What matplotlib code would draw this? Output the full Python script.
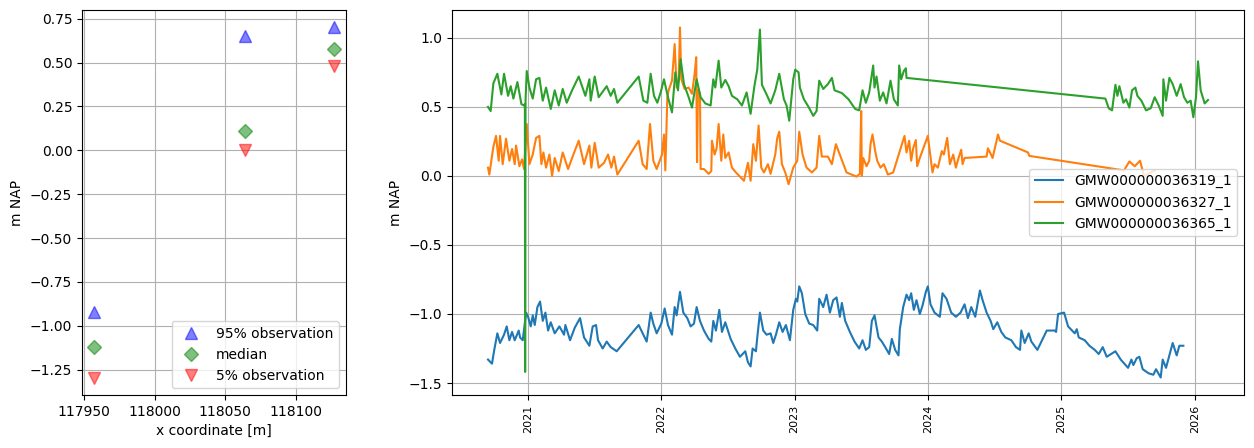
import datetime as dt

import matplotlib
matplotlib.use('Agg')
import matplotlib.pyplot as plt


# left panel: statistics per well along x coordinate
x_coord = [117957, 118064, 118127]
q95 = [-0.92, 0.65, 0.70]
q50 = [-1.12, 0.11, 0.575]
q05 = [-1.295, 0.0, 0.48]

# right panel: head series (decimal year, m NAP)
well_names = ['GMW000000036319_1', 'GMW000000036327_1', 'GMW000000036365_1']

well_319 = [
    (2020.70, -1.33), (2020.73, -1.36), (2020.745, -1.27), (2020.77, -1.14), (2020.79, -1.21),
    (2020.82, -1.15), (2020.84, -1.09), (2020.86, -1.19), (2020.88, -1.13), (2020.90, -1.19),
    (2020.93, -1.12), (2020.94, -1.17), (2020.96, -1.19), (2020.985, -0.99), (2021.00, -1.02),
    (2021.02, -1.09), (2021.035, -1.01), (2021.05, -1.08), (2021.07, -0.95), (2021.09, -0.91),
    (2021.11, -1.05), (2021.13, -0.99), (2021.15, -1.12), (2021.17, -1.06), (2021.20, -1.14),
    (2021.235, -1.09), (2021.27, -1.15), (2021.28, -1.08), (2021.315, -1.19), (2021.35, -1.10),
    (2021.39, -1.03), (2021.42, -1.17), (2021.46, -1.23), (2021.485, -1.09), (2021.51, -1.08),
    (2021.525, -1.19), (2021.56, -1.25), (2021.59, -1.20), (2021.62, -1.24), (2021.665, -1.27),
    (2021.83, -1.08), (2021.86, -1.14), (2021.89, -1.20), (2021.92, -0.99), (2021.94, -1.07),
    (2021.965, -1.14), (2022.00, -1.07), (2022.025, -0.96), (2022.05, -1.08), (2022.08, -1.15),
    (2022.10, -0.95), (2022.115, -1.01), (2022.14, -0.84), (2022.165, -0.99), (2022.195, -1.03),
    (2022.22, -1.09), (2022.245, -1.07), (2022.265, -0.95), (2022.29, -1.05), (2022.32, -1.12),
    (2022.355, -1.18), (2022.375, -1.20), (2022.39, -1.05), (2022.41, -1.12), (2022.435, -0.97),
    (2022.455, -1.13), (2022.48, -1.06), (2022.52, -1.18), (2022.555, -1.25), (2022.59, -1.31),
    (2022.63, -1.27), (2022.65, -1.35), (2022.67, -1.38), (2022.685, -1.25), (2022.71, -1.27),
    (2022.72, -1.17), (2022.74, -0.99), (2022.765, -1.12), (2022.79, -1.15), (2022.82, -1.14),
    (2022.84, -1.21), (2022.86, -1.15), (2022.885, -1.06), (2022.91, -1.13), (2022.935, -1.08),
    (2022.965, -1.19), (2022.99, -0.97), (2023.01, -0.89), (2023.02, -0.91), (2023.035, -0.80),
    (2023.055, -0.85), (2023.08, -1.00), (2023.11, -1.07), (2023.14, -1.08), (2023.17, -1.12),
    (2023.185, -0.89), (2023.215, -0.95), (2023.24, -0.86), (2023.265, -0.99), (2023.29, -0.90),
    (2023.315, -0.88), (2023.34, -1.02), (2023.355, -0.92), (2023.38, -1.05), (2023.415, -1.13),
    (2023.45, -1.20), (2023.485, -1.25), (2023.51, -1.19), (2023.535, -1.26), (2023.56, -1.24),
    (2023.58, -1.05), (2023.60, -1.01), (2023.63, -1.17), (2023.655, -1.20), (2023.68, -1.24),
    (2023.71, -1.29), (2023.73, -1.18), (2023.755, -1.26), (2023.78, -1.30), (2023.79, -1.11),
    (2023.815, -0.95), (2023.84, -0.86), (2023.86, -0.90), (2023.875, -0.85), (2023.895, -0.97),
    (2023.915, -0.90), (2023.94, -1.00), (2023.96, -0.94), (2023.985, -0.84), (2024.00, -0.80),
    (2024.02, -0.93), (2024.05, -0.99), (2024.09, -1.02), (2024.11, -0.85), (2024.14, -0.89),
    (2024.175, -0.99), (2024.21, -1.02), (2024.245, -0.99), (2024.275, -0.93), (2024.30, -1.03),
    (2024.325, -0.95), (2024.355, -1.02), (2024.39, -0.83), (2024.41, -0.90), (2024.44, -0.99),
    (2024.47, -1.05), (2024.49, -1.11), (2024.52, -1.06), (2024.55, -1.13), (2024.58, -1.17),
    (2024.625, -1.19), (2024.66, -1.24), (2024.69, -1.26), (2024.70, -1.12), (2024.725, -1.21),
    (2024.755, -1.14), (2024.775, -1.20), (2024.82, -1.26), (2024.89, -1.12), (2024.95, -1.12),
    (2024.96, -1.13), (2024.975, -1.00), (2025.02, -0.99), (2025.05, -1.09), (2025.10, -1.14),
    (2025.115, -1.11), (2025.13, -1.17), (2025.175, -1.19), (2025.21, -1.23), (2025.25, -1.26),
    (2025.28, -1.29), (2025.31, -1.24), (2025.34, -1.31), (2025.405, -1.27), (2025.445, -1.33),
    (2025.50, -1.39), (2025.525, -1.33), (2025.54, -1.37), (2025.565, -1.32), (2025.585, -1.31),
    (2025.61, -1.40), (2025.655, -1.43), (2025.69, -1.44), (2025.71, -1.40), (2025.745, -1.46),
    (2025.76, -1.33), (2025.785, -1.39), (2025.835, -1.21), (2025.865, -1.30), (2025.885, -1.23),
    (2025.915, -1.23),
]

well_327 = [
    (2020.70, 0.06), (2020.71, 0.01), (2020.74, 0.21), (2020.76, 0.29), (2020.78, 0.11),
    (2020.79, 0.29), (2020.81, 0.085), (2020.835, 0.27), (2020.86, 0.11), (2020.88, 0.195),
    (2020.90, 0.085), (2020.91, 0.22), (2020.935, 0.07), (2020.955, 0.12), (2020.97, 0.05),
    (2020.99, 0.376), (2021.01, 0.085), (2021.035, 0.155), (2021.06, 0.275), (2021.085, 0.29),
    (2021.10, 0.085), (2021.115, 0.17), (2021.135, 0.06), (2021.16, 0.155), (2021.18, 0.0),
    (2021.20, 0.13), (2021.23, 0.035), (2021.26, 0.17), (2021.30, 0.05), (2021.34, 0.155),
    (2021.38, 0.255), (2021.42, 0.085), (2021.46, 0.22), (2021.475, 0.06), (2021.50, 0.24),
    (2021.53, 0.06), (2021.57, 0.095), (2021.60, 0.155), (2021.625, 0.06), (2021.645, 0.14),
    (2021.67, 0.01), (2021.83, 0.255), (2021.86, 0.085), (2021.89, 0.05), (2021.915, 0.376),
    (2021.94, 0.11), (2021.965, 0.05), (2022.005, 0.155), (2022.02, 0.30), (2022.03, 0.04),
    (2022.045, 0.57), (2022.055, 0.62), (2022.08, 0.69), (2022.10, 0.955), (2022.115, 0.64),
    (2022.13, 0.69), (2022.14, 1.075), (2022.15, 0.70), (2022.175, 0.63), (2022.205, 0.64),
    (2022.23, 0.595), (2022.25, 0.74), (2022.262, 0.86), (2022.268, 0.10), (2022.275, 0.62),
    (2022.29, 0.60), (2022.295, 0.05), (2022.32, 0.05), (2022.355, 0.015), (2022.375, 0.035),
    (2022.38, 0.255), (2022.40, 0.155), (2022.415, 0.20), (2022.43, 0.376), (2022.45, 0.11),
    (2022.465, 0.30), (2022.48, 0.13), (2022.505, 0.17), (2022.53, 0.06), (2022.56, 0.025),
    (2022.595, -0.01), (2022.62, -0.035), (2022.65, 0.095), (2022.67, -0.035), (2022.69, 0.23),
    (2022.71, 0.11), (2022.73, 0.365), (2022.75, 0.06), (2022.77, 0.025), (2022.80, 0.085),
    (2022.82, 0.015), (2022.855, 0.155), (2022.87, 0.275), (2022.885, 0.32), (2022.905, 0.085),
    (2022.93, 0.025), (2022.955, -0.06), (2022.99, 0.06), (2023.02, 0.11), (2023.035, 0.32),
    (2023.06, 0.155), (2023.09, 0.06), (2023.13, 0.025), (2023.165, 0.06), (2023.185, 0.29),
    (2023.205, 0.14), (2023.25, 0.14), (2023.28, 0.085), (2023.31, 0.23), (2023.39, 0.025),
    (2023.465, -0.005), (2023.49, 0.015), (2023.50, 0.47), (2023.505, 0.0), (2023.515, 0.13),
    (2023.54, 0.07), (2023.56, 0.11), (2023.57, 0.23), (2023.585, 0.30), (2023.605, 0.18),
    (2023.62, 0.11), (2023.645, 0.06), (2023.67, 0.085), (2023.70, 0.01), (2023.74, 0.025),
    (2023.825, 0.29), (2023.84, 0.17), (2023.86, 0.255), (2023.875, 0.11), (2023.89, 0.20),
    (2023.91, 0.26), (2023.92, 0.07), (2023.94, 0.13), (2024.00, 0.29), (2024.035, 0.025),
    (2024.05, 0.085), (2024.075, 0.06), (2024.105, 0.18), (2024.12, 0.155), (2024.145, 0.275),
    (2024.165, 0.085), (2024.19, 0.155), (2024.21, 0.06), (2024.23, 0.13), (2024.25, 0.19),
    (2024.26, 0.085), (2024.275, 0.13), (2024.44, 0.14), (2024.45, 0.20), (2024.485, 0.13),
    (2024.525, 0.30), (2024.54, 0.255), (2024.75, 0.17), (2024.76, 0.145), (2025.47, 0.04),
    (2025.51, 0.105), (2025.55, 0.07), (2025.59, 0.11), (2025.62, 0.0), (2025.70, 0.04),
]

well_365 = [
    (2020.70, 0.50), (2020.72, 0.47), (2020.74, 0.67), (2020.77, 0.74), (2020.80, 0.59),
    (2020.82, 0.74), (2020.85, 0.58), (2020.87, 0.65), (2020.89, 0.56), (2020.92, 0.68),
    (2020.95, 0.52), (2020.97, 0.51), (2020.976, 0.52), (2020.978, -1.42), (2020.981, 0.55),
    (2020.99, 0.76), (2021.01, 0.64), (2021.035, 0.56), (2021.06, 0.70), (2021.085, 0.71),
    (2021.11, 0.545), (2021.135, 0.64), (2021.17, 0.485), (2021.20, 0.62), (2021.23, 0.51),
    (2021.26, 0.63), (2021.29, 0.53), (2021.33, 0.62), (2021.38, 0.72), (2021.43, 0.58),
    (2021.46, 0.70), (2021.47, 0.545), (2021.50, 0.72), (2021.53, 0.57), (2021.56, 0.61),
    (2021.59, 0.65), (2021.62, 0.58), (2021.645, 0.63), (2021.67, 0.53), (2021.83, 0.72),
    (2021.865, 0.545), (2021.895, 0.53), (2021.92, 0.74), (2021.945, 0.58), (2021.97, 0.53),
    (2021.995, 0.605), (2022.02, 0.70), (2022.05, 0.57), (2022.08, 0.46), (2022.105, 0.75),
    (2022.125, 0.62), (2022.145, 0.845), (2022.17, 0.665), (2022.205, 0.57), (2022.23, 0.495),
    (2022.265, 0.70), (2022.295, 0.57), (2022.33, 0.525), (2022.37, 0.51), (2022.39, 0.70),
    (2022.405, 0.64), (2022.43, 0.835), (2022.45, 0.64), (2022.48, 0.695), (2022.505, 0.65),
    (2022.53, 0.58), (2022.57, 0.555), (2022.605, 0.51), (2022.64, 0.605), (2022.67, 0.45),
    (2022.70, 0.66), (2022.72, 0.77), (2022.74, 1.06), (2022.755, 0.66), (2022.79, 0.59),
    (2022.82, 0.525), (2022.855, 0.62), (2022.885, 0.74), (2022.92, 0.555), (2022.94, 0.51),
    (2022.96, 0.40), (2022.99, 0.70), (2023.005, 0.77), (2023.03, 0.75), (2023.04, 0.64),
    (2023.07, 0.555), (2023.105, 0.50), (2023.14, 0.435), (2023.165, 0.47), (2023.185, 0.69),
    (2023.215, 0.63), (2023.25, 0.665), (2023.28, 0.71), (2023.30, 0.62), (2023.355, 0.60),
    (2023.405, 0.555), (2023.455, 0.485), (2023.485, 0.475), (2023.51, 0.62), (2023.535, 0.53),
    (2023.56, 0.605), (2023.59, 0.80), (2023.60, 0.64), (2023.615, 0.72), (2023.64, 0.545),
    (2023.665, 0.605), (2023.69, 0.525), (2023.72, 0.69), (2023.745, 0.555), (2023.775, 0.51),
    (2023.785, 0.80), (2023.80, 0.70), (2023.82, 0.76), (2023.835, 0.78), (2023.84, 0.71),
    (2025.33, 0.56), (2025.355, 0.49), (2025.38, 0.475), (2025.405, 0.66), (2025.42, 0.58),
    (2025.435, 0.65), (2025.465, 0.53), (2025.485, 0.555), (2025.51, 0.495), (2025.53, 0.62),
    (2025.555, 0.64), (2025.57, 0.58), (2025.60, 0.545), (2025.635, 0.475), (2025.67, 0.49),
    (2025.70, 0.57), (2025.73, 0.51), (2025.76, 0.435), (2025.765, 0.70), (2025.785, 0.545),
    (2025.81, 0.71), (2025.835, 0.665), (2025.865, 0.58), (2025.895, 0.665), (2025.92, 0.57),
    (2025.945, 0.53), (2025.97, 0.545), (2025.99, 0.425), (2026.01, 0.57), (2026.025, 0.83),
    (2026.045, 0.62), (2026.075, 0.525), (2026.10, 0.55),
]


def to_date(y):
    year = int(y)
    start = dt.datetime(year, 1, 1)
    end = dt.datetime(year + 1, 1, 1)
    return start + (end - start) * (y - year)


fig = plt.figure(figsize=(12.54, 4.48), dpi=100)
ax1 = fig.add_axes([82 / 1254, 53 / 448, 264 / 1254, 385 / 448])
ax2 = fig.add_axes([452 / 1254, 53 / 448, 792 / 1254, 385 / 448])

ax1.plot(x_coord, q95, '^', color='b', alpha=0.5, markersize=8, label='95% observation')
ax1.plot(x_coord, q50, 'D', color='g', alpha=0.5, markersize=7, label='median')
ax1.plot(x_coord, q05, 'v', color='r', alpha=0.5, markersize=8, label='5% observation')
ax1.set_xlabel('x coordinate [m]')
ax1.set_ylabel('m NAP')
ax1.grid(True)
ax1.legend(loc='lower right')

for name, series in zip(well_names, [well_319, well_327, well_365]):
    t = [to_date(p[0]) for p in series]
    h = [p[1] for p in series]
    ax2.plot(t, h, label=name)
ax2.set_ylabel('m NAP')
ax2.grid(True)
ax2.legend(loc='center right')
for lbl in ax2.get_xticklabels():
    lbl.set_rotation(90)
    lbl.set_fontsize(8)

fig.savefig('out.png', dpi=100)
